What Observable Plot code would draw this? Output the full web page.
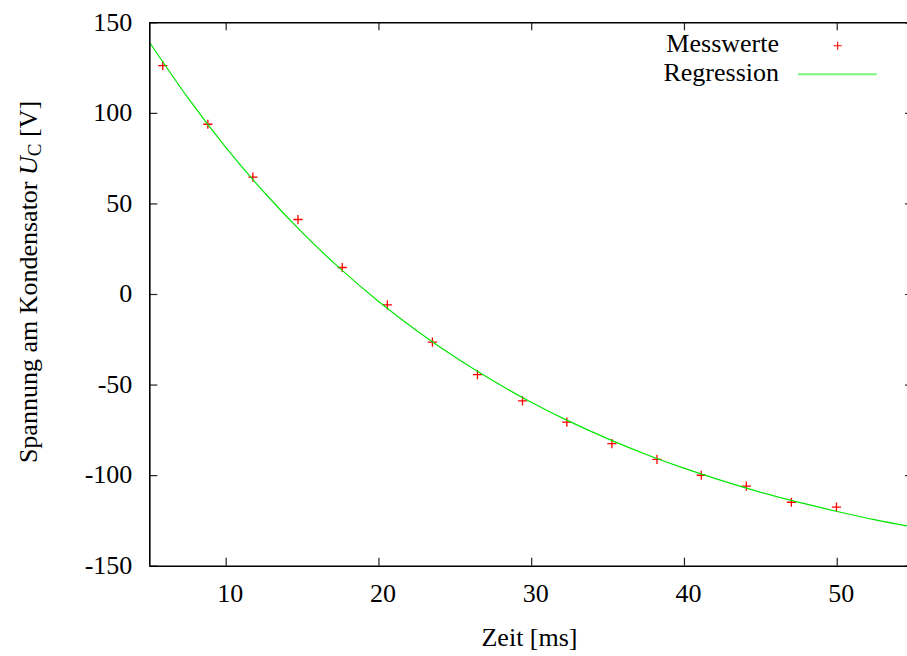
<!DOCTYPE html>
<html><head><meta charset="utf-8">
<script src="https://cdn.jsdelivr.net/npm/d3@7"></script>
<script src="https://cdn.jsdelivr.net/npm/@observablehq/plot@0.6"></script>
<style>
html,body{margin:0;padding:0;background:#fff;overflow:hidden}
svg{display:block}
</style>
</head><body><div id="chart"></div>
<script>
// Measured values (Messwerte)
const times = [5.85, 8.8, 11.75, 14.7, 17.6, 20.55, 23.5, 26.45, 29.4, 32.3, 35.25, 38.2, 41.1, 44.05, 47.0, 49.95];
const voltages = [126.4, 94.0, 64.8, 41.4, 14.9, -5.7, -26.3, -44.2, -58.7, -70.5, -82.3, -91.0, -99.8, -105.8, -114.7, -117.4];

// Regression curve
const regTimes = [5, 7.5, 10, 12.5, 15, 17.5, 20, 22.5, 25, 27.5, 30, 32.5, 35, 37.5, 40, 42.5, 45, 47.5, 50, 52.5, 55];
const regVoltages = [139, 108.5, 81, 56.3, 34, 14, -4, -20.1, -34.7, -47.8, -59.6, -70.2, -79.7, -88.3, -96, -102.9, -109.2, -114.8, -119.8, -124.4, -128.4];

// Ticks
const xTicks = [10, 20, 30, 40, 50];
const yTicks = [-150, -100, -50, 0, 50, 100, 150];
const xDomain = [5, 55];
const yDomain = [-150, 150];

const meas = times.map((t, i) => ({t, u: voltages[i]}));
const reg = regTimes.map((t, i) => ({t, u: regVoltages[i]}));

const fontStack = "'Liberation Serif', serif";
const fs = 26;
const xRange = [149.3, 913.1];
const yRange = [565.7, 22.3];
const tick = 8; // px
const xTickLen = tick * (xDomain[1] - xDomain[0]) / (xRange[1] - xRange[0]);
const yTickLen = tick * (yDomain[1] - yDomain[0]) / (yRange[0] - yRange[1]);

const plusSymbol = {
  draw(context, size) {
    const r = Math.sqrt(size / Math.PI);
    context.moveTo(-r, 0); context.lineTo(r, 0);
    context.moveTo(0, -r); context.lineTo(0, r);
  }
};

const svg = Plot.plot({
  width: 907, height: 656,
  marginTop: 0, marginRight: 0, marginBottom: 0, marginLeft: 0,
  x: {domain: xDomain, range: xRange, axis: null},
  y: {domain: yDomain, range: yRange, axis: null},
  style: {fontFamily: fontStack, fontSize: fs + "px", background: "white", color: "black", overflow: "hidden"},
  marks: [
    Plot.dot(meas, {x: "t", y: "u", symbol: plusSymbol, r: 4.6, stroke: "#ff0000", strokeWidth: 1.3, fill: "none"}),
    Plot.line(reg, {x: "t", y: "u", stroke: "#00e600", strokeWidth: 1.2, curve: "natural"}),
    // inward ticks, mirrored
    Plot.ruleX(xTicks, {x: d => d, y1: yDomain[0], y2: yDomain[0] + yTickLen, stroke: "#222", strokeWidth: 1.2}),
    Plot.ruleX(xTicks, {x: d => d, y1: yDomain[1], y2: yDomain[1] - yTickLen, stroke: "#222", strokeWidth: 1.2}),
    Plot.ruleY(yTicks, {y: d => d, x1: xDomain[0], x2: xDomain[0] + xTickLen, stroke: "#222", strokeWidth: 1.2}),
    Plot.ruleY(yTicks, {y: d => d, x1: xDomain[1], x2: xDomain[1] - xTickLen, stroke: "#222", strokeWidth: 1.2}),
    // border
    Plot.ruleX(xDomain, {x: d => d, y1: yDomain[0], y2: yDomain[1], stroke: "black", strokeWidth: 1.6}),
    Plot.ruleY(yDomain, {y: d => d, x1: xDomain[0], x2: xDomain[1], stroke: "black", strokeWidth: 1.6}),
    // tick labels
    Plot.text(xTicks, {x: d => d, y: yDomain[0], text: d => String(d), dx: 4, dy: 35.5, lineAnchor: "bottom", fontSize: fs, fontFamily: fontStack, fill: "black"}),
    Plot.text(yTicks, {x: xDomain[0], y: d => d, text: d => String(d), textAnchor: "end", dx: -17.5, dy: -0.5, fontSize: fs, fontFamily: fontStack, fill: "black"})
  ]
});

const s = d3.select(svg);
// x axis label
s.append("text").attr("x", 529.5).attr("y", 646).attr("text-anchor", "middle")
  .attr("font-family", fontStack).attr("font-size", fs).attr("fill", "black").text("Zeit [ms]");
// y axis label
const yl = s.append("text").attr("transform", "translate(36.5,282) rotate(-90)")
  .attr("text-anchor", "middle").attr("font-family", fontStack).attr("font-size", fs).attr("fill", "black");
yl.append("tspan").text("Spannung am Kondensator ");
yl.append("tspan").attr("font-style", "italic").text("U");
yl.append("tspan").attr("font-size", 19).attr("dy", 4).text("C");
yl.append("tspan").attr("dy", -4).text(" [V]");

// legend
const lg = s.append("g").attr("font-family", fontStack).attr("font-size", fs).attr("fill", "black");
lg.append("text").attr("x", 779).attr("y", 51.7).attr("text-anchor", "end").text("Messwerte");
lg.append("text").attr("x", 779).attr("y", 80.5).attr("text-anchor", "end").text("Regression");
lg.append("path").attr("d", "M833.7,45.7H841.7M837.7,41.7V49.7").attr("stroke", "#ff0000").attr("stroke-width", 1.1).attr("fill", "none");
lg.append("line").attr("x1", 798).attr("x2", 876.7).attr("y1", 74.3).attr("y2", 74.3).attr("stroke", "#7cf57c").attr("stroke-width", 2);

document.getElementById("chart").appendChild(svg);
</script>
</body></html>
